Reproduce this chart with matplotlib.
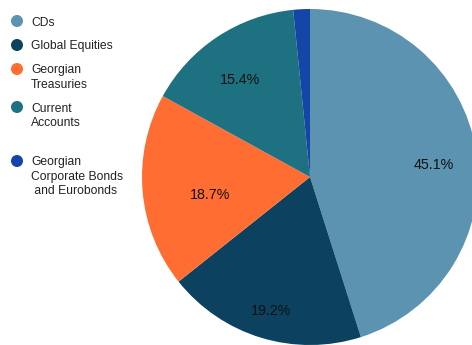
import numpy as np
import matplotlib
matplotlib.use('Agg')
import matplotlib.pyplot as plt

plt.rcParams['font.family'] = ['Liberation Sans', 'DejaVu Sans']

# Portfolio breakdown
categories = ['CDs', 'Global Equities', 'Georgian\nTreasuries', 'Current\nAccounts',
              'Georgian\nCorporate Bonds\n and Eurobonds']
shares = [45.1, 19.2, 18.7, 15.4, 1.6]
colors = ['#5b93b1', '#0c4260', '#ff6d33', '#1e7181', '#1446a8']

# percentage label placement: (radius, angle nudge in degrees)
label_place = [(0.74, -2.3), (0.82, 0.5), (0.6, 4.5), (0.72, 1.8), None]

fig = plt.figure(figsize=(4.72, 3.45), dpi=100)

# pie axes: centre at (310, 177) px, radius 168 px
ax = fig.add_axes([142 / 472, 0, 336 / 472, 336 / 345])
wedges, _ = ax.pie(shares, colors=colors, startangle=90, counterclock=False,
                   radius=1, wedgeprops=dict(linewidth=0))
ax.set_xlim(-1, 1)
ax.set_ylim(-1, 1)
ax.set_aspect('auto')
ax.axis('off')

for w, val, place in zip(wedges, shares, label_place):
    if place is None:
        continue
    r, nudge = place
    mid = np.deg2rad((w.theta1 + w.theta2) / 2 + nudge)
    ax.text(r * np.cos(mid), r * np.sin(mid) - 0.01, f'{val}%', ha='center', va='center',
            fontsize=10.3, color='#111111')

# legend drawn by hand (uneven row spacing)
leg = fig.add_axes([0, 0, 1, 1])
leg.set_xlim(0, 472)
leg.set_ylim(345, 0)
leg.axis('off')
rows = [21, 45, 69, 107, 161]
for y, lab, c in zip(rows, categories, colors):
    leg.scatter([17], [y], s=75, color=c, edgecolors='none')
    leg.text(31, y - 4.5, lab, ha='left', va='top', fontsize=8.7, color='#222222',
             linespacing=1.24)

fig.savefig('out.png', dpi=100)
